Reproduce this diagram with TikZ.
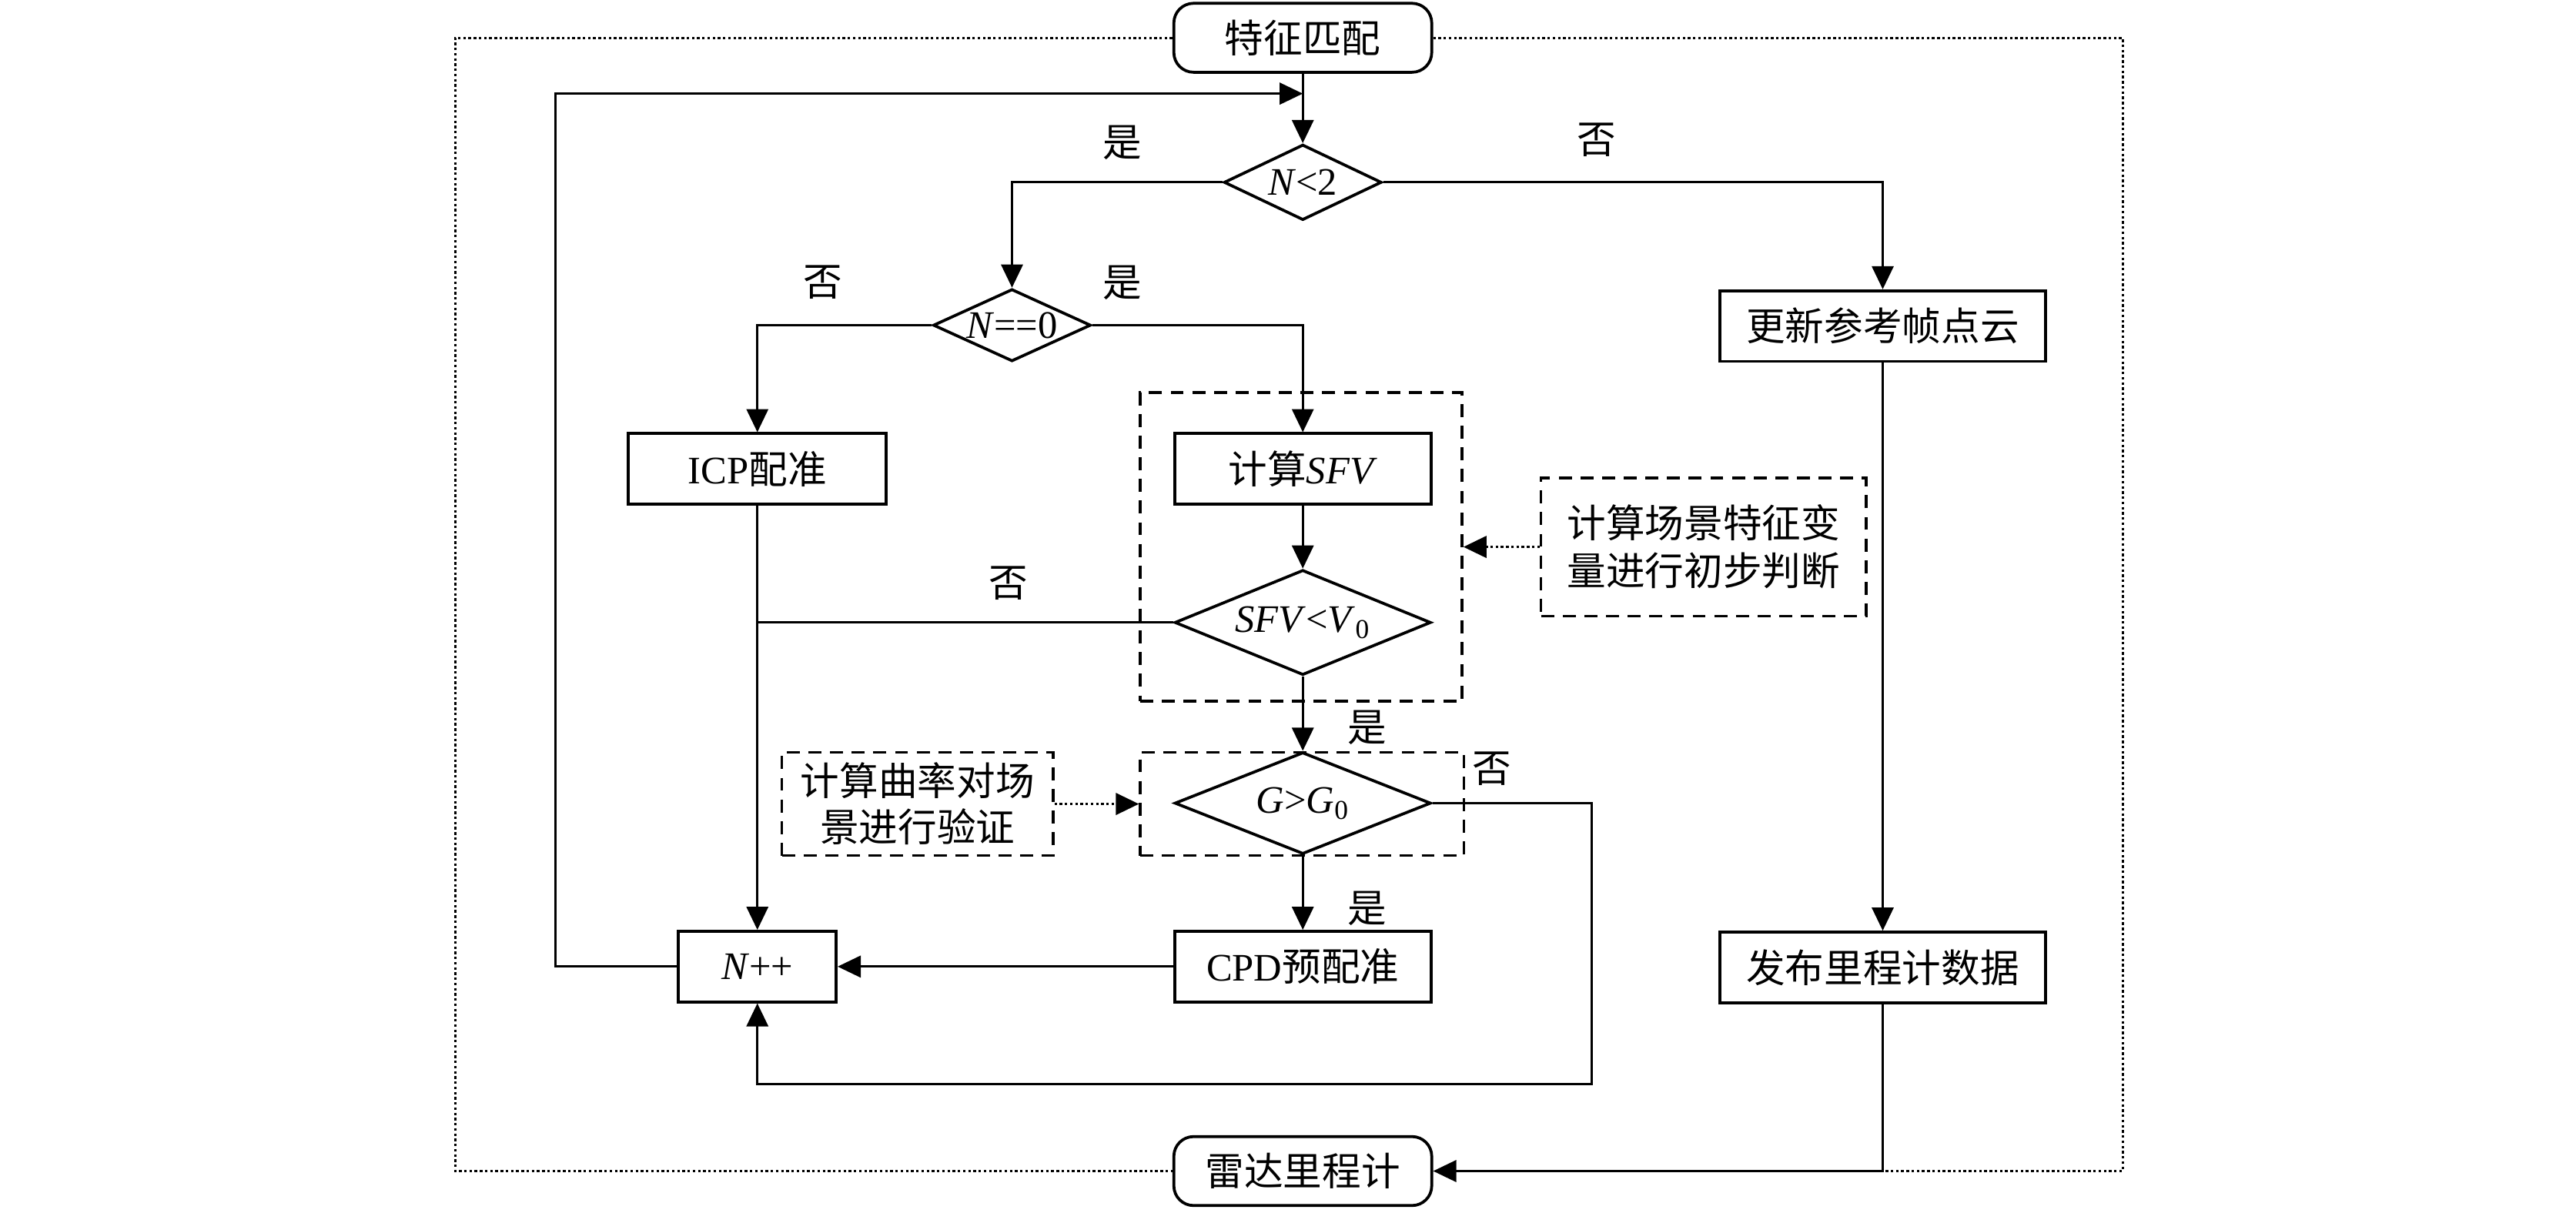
\documentclass[tikz,border=0pt]{standalone}
\usepackage{fontspec}
\setmainfont{Liberation Serif}
\newfontfamily\cjk{Noto Sans CJK SC}
\usetikzlibrary{arrows.meta,shapes.geometric}
\begin{document}
\begin{tikzpicture}[x=0.02cm,y=-0.02cm,
  every node/.style={font=\fontsize{13.5}{17}\selectfont},
  box/.style={draw,line width=1pt,rectangle,minimum height=0.86cm,inner sep=0pt},
  term/.style={draw,line width=1pt,rectangle,rounded corners=0.24cm,minimum width=3.14cm,minimum height=0.84cm,inner sep=0pt},
  dia/.style={draw,line width=1pt,diamond,inner sep=0pt},
  dashbox/.style={draw,line width=0.9pt,dash pattern=on 4.5pt off 3pt,rectangle,inner sep=0pt},
  ln/.style={line width=0.75pt},
  arr/.style={line width=0.75pt,-{Triangle[length=8pt,width=7.5pt]}},
  dotarr/.style={line width=0.9pt,dash pattern=on 0.9pt off 0.9pt,-{Triangle[length=8pt,width=7.5pt]}},
  dots/.style={line width=0.8pt,dash pattern=on 0.9pt off 0.9pt},
  lab/.style={inner sep=0pt}
]
\useasboundingbox (0,0) rectangle (1568,738.5);

% terminals
\node[term] (start) at (793,23) {\cjk 特征匹配};
\node[term] (end) at (793,713) {\cjk 雷达里程计};

% diamonds
\node[dia,minimum width=1.92cm,minimum height=0.92cm] (d1) at (793,111) {};
\node (d1t) at (d1) {\textit{N}<2};
\node[dia,minimum width=1.92cm,minimum height=0.88cm] (d2) at (616,198) {};
\node (d2t) at (d2) {\textit{N}==0};
\node[dia,minimum width=3.12cm,minimum height=1.28cm] (d3) at (793,379) {};
\node (d3t) at (d3) {\textit{SFV}<\textit{V}\textsubscript{0}};
\node[dia,minimum width=3.12cm,minimum height=1.24cm] (d4) at (793,489) {};
\node (d4t) at (d4) {\textit{G}>\textit{G}\textsubscript{0}};

% process boxes
\node[box,minimum width=3.14cm] (icp) at (461,285.5) {ICP{\cjk 配准}};
\node[box,minimum width=3.12cm] (sfv) at (793,285.5) {{\cjk 计算}\textit{SFV}};
\node[box,minimum width=3.12cm] (cpd) at (793,588.5) {CPD{\cjk 预配准}};
\node[box,minimum width=1.92cm] (npp) at (461,588.5) {\textit{N}++};
\node[box,minimum width=3.96cm] (upd) at (1146,198.5) {\cjk 更新参考帧点云};
\node[box,minimum width=3.96cm] (pub) at (1146,589) {\cjk 发布里程计数据};

% dashed groups
\node[dashbox,minimum width=3.92cm,minimum height=3.76cm] (g1) at (792,333) {};
\node[dashbox,minimum width=3.94cm,minimum height=1.26cm] (g2) at (792.5,489.5) {};

% notes
\node[dashbox,minimum width=3.96cm,minimum height=1.68cm,align=center] (n1) at (1037,333)
  {\cjk 计算场景特征变\\[-0.5pt]\cjk 量进行初步判断};
\node[dashbox,minimum width=3.3cm,minimum height=1.26cm,align=center] (n2) at (558.5,489.5)
  {\cjk 计算曲率对场\\[-1pt]\cjk 景进行验证};

% coordinates
\coordinate (j1) at (793,57);
\coordinate (lp) at (338,57);
\coordinate (c2) at (969,660);
\coordinate (ol) at (277,713);
\coordinate (orr) at (1292,713);

% connectors
\draw[arr] (start.south) -- (d1.north);
\draw[arr] (npp.west) -| (lp) -- (j1);
\draw[arr] (d1.west) -| (d2.north);
\draw[arr] (d1.east) -| (upd.north);
\draw[arr] (d2.west) -| (icp.north);
\draw[arr] (d2.east) -| (sfv.north);
\draw[arr] (sfv.south) -- (d3.north);
\draw[ln] (d3.west) -- (icp.south |- d3.west);
\draw[arr] (icp.south) -- (npp.north);
\draw[arr] (d3.south) -- (d4.north);
\draw[arr] (d4.south) -- (cpd.north);
\draw[arr] (cpd.west) -- (npp.east);
\draw[arr] (d4.east) -| (c2) -| (npp.south);
\draw[arr] (upd.south) -- (pub.north);
\draw[arr] (pub.south) |- (end.east);
\draw[dotarr] (n1.west) -- (g1.east);
\draw[dotarr] (n2.east) -- (g2.west);
\draw[dots] (start.west) -| (ol) -- (end.west);
\draw[dots] (start.east) -| (orr) -- (pub.south |- end.east);

% labels
\node[lab] (l1) at (683,87) {\cjk 是};
\node[lab] (l2) at (972,85) {\cjk 否};
\node[lab] (l3) at (501,172) {\cjk 否};
\node[lab] (l4) at (683,172) {\cjk 是};
\node[lab] (l5) at (614,355) {\cjk 否};
\node[lab] (l6) at (832,443) {\cjk 是};
\node[lab] (l7) at (908,468) {\cjk 否};
\node[lab] (l8) at (832,553) {\cjk 是};
\end{tikzpicture}
\end{document}
